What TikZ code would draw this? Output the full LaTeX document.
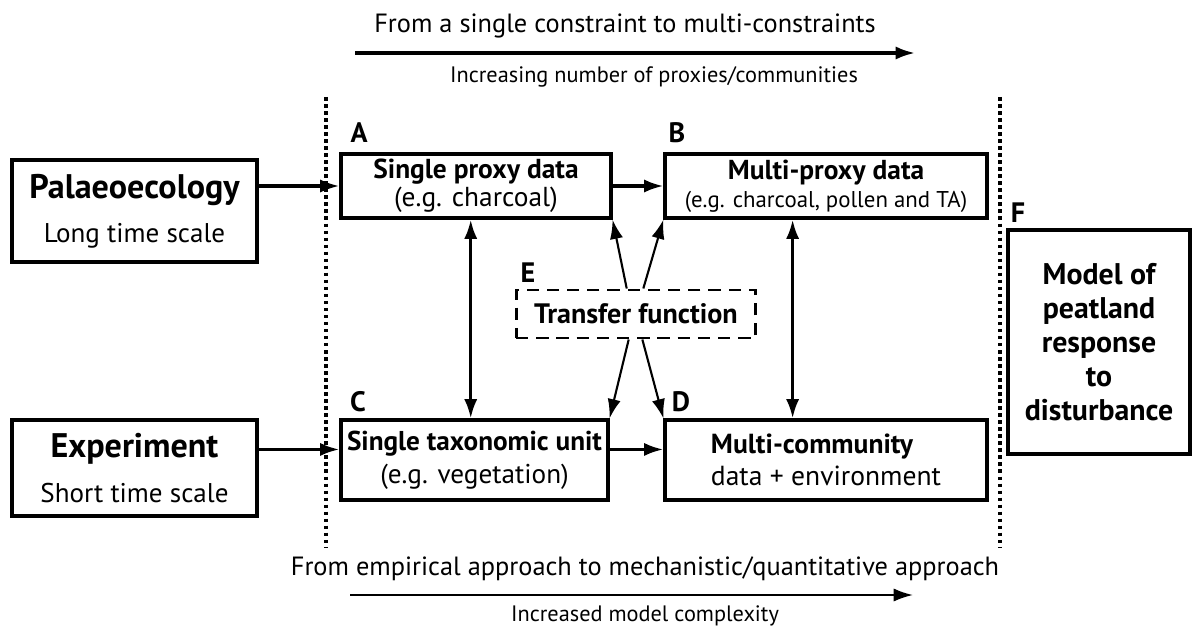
\documentclass[tikz,border=0pt]{standalone}
\usepackage{fontspec}
\setmainfont{PT Sans}
\usetikzlibrary{arrows.meta}
\begin{document}
\begin{tikzpicture}[x=0.02cm,y=-0.02cm]
	\tikzstyle{none}=[inner sep=0pt]
	\tikzstyle{box}=[draw,line width=1.8pt,inner sep=0pt,align=center]
	\tikzstyle{dbox}=[draw,line width=1.7pt,dash pattern=on 7pt off 4.5pt,inner sep=0pt]
	\tikzstyle{letter}=[inner sep=0pt,font=\fontsize{16}{16}\selectfont\bfseries]
	\tikzstyle{arrow1}=[-{Latex[length=11pt,width=7.5pt]},draw,line width=1.8pt]
	\tikzstyle{arrow2}=[-{Latex[length=11pt,width=7.5pt]},draw,line width=1.2pt]
	\tikzstyle{both}=[{Latex[length=11pt,width=7.5pt]}-{Latex[length=11pt,width=7.5pt]},draw,line width=1.8pt]
	\tikzstyle{sep}=[draw,line width=2pt,dash pattern=on 2pt off 2pt]
		\useasboundingbox (0,0) rectangle (1192,628);

		\node [style=box, minimum width=4.9cm, minimum height=2.04cm, font=\fontsize{15.4}{25}\selectfont] (palaeo) at (134.5, 211) {{\fontsize{19.4}{25}\selectfont\bfseries Palaeoecology}\\Long time scale};
		\node [style=box, minimum width=4.9cm, minimum height=1.92cm, font=\fontsize{15.4}{25.6}\selectfont] (exper) at (134.5, 468) {{\fontsize{19.4}{25.6}\selectfont\bfseries Experiment}\\Short time scale};
		\node [style=box, minimum width=5.4cm, minimum height=1.28cm, font=\fontsize{15.6}{16}\selectfont] (A) at (476, 186) {{\bfseries Single proxy data}\\(e.g. charcoal)};
		\node [style=box, minimum width=6.44cm, minimum height=1.28cm, font=\fontsize{15.6}{16}\selectfont] (B) at (826, 186) {{\bfseries Multi-proxy data}\\{\fontsize{13}{16}\selectfont (e.g. charcoal, pollen and TA)}};
		\node [style=box, minimum width=5.34cm, minimum height=1.6cm, font=\fontsize{15.5}{18.8}\selectfont] (C) at (474.5, 460) {{\bfseries Single taxonomic unit}\\(e.g. vegetation)};
		\node [style=box, minimum width=6.44cm, minimum height=1.6cm, align=left, font=\fontsize{15.7}{18.2}\selectfont] (D) at (826, 460) {{\bfseries Multi-community}\\data + environment};
		\node [style=dbox, minimum width=4.8cm, minimum height=0.96cm, font=\fontsize{16}{16}\selectfont\bfseries] (E) at (636, 314) {Transfer function};
		\node [style=box, minimum width=3.64cm, minimum height=4.48cm, font=\fontsize{17}{19.4}\selectfont\bfseries] (F) at (1099, 342) {Model of\\peatland\\response\\to\\disturbance};

		\node [style=letter] (la) at (359, 133) {A};
		\node [style=letter] (lb) at (677, 133) {B};
		\node [style=letter] (lc) at (358, 402) {C};
		\node [style=letter] (ld) at (681, 402) {D};
		\node [style=letter] (le) at (528, 273) {E};
		\node [style=letter] (lf) at (1018, 213) {F};

		\node [style=none, anchor=base, font=\fontsize{15}{16}\selectfont] (top) at (625, 33) {From a single constraint to multi-constraints};
		\node [style=none, anchor=base, font=\fontsize{12.7}{13}\selectfont] (topsub) at (654, 83) {Increasing number of proxies/communities};
		\node [style=none, anchor=base, font=\fontsize{15}{16}\selectfont] (bot) at (645, 575) {From empirical approach to mechanistic/quantitative approach};
		\node [style=none, anchor=base, font=\fontsize{12.7}{13}\selectfont] (botsub) at (645, 621) {Increased model complexity};

		\coordinate (t1) at (355, 53);
		\coordinate (t2) at (915, 53);
		\coordinate (b1) at (350, 595);
		\coordinate (b2) at (913, 595);
		\coordinate (s1) at (326, 97);
		\coordinate (s2) at (326, 548);
		\coordinate (s3) at (1000, 97);
		\coordinate (s4) at (1000, 548);

		\draw [style=arrow1] (t1) to (t2);
		\draw [style=arrow2] (b1) to (b2);
		\draw [style=sep] (s1) to (s2);
		\draw [style=sep] (s3) to (s4);

		\draw [style=arrow1] (palaeo.east |- A.west) to (A.west);
		\draw [style=arrow1] ([yshift=6pt]exper.east |- C.west) to ([yshift=6pt]C.west);
		\draw [style=arrow1] (A.east) to (B.west);
		\draw [style=arrow1] ([yshift=6pt]C.east) to ([yshift=6pt]D.west);
		\draw [style=both] ([xshift=-3pt]A.south) to ([xshift=-3pt]A.south |- C.north);
		\draw [style=both] ([xshift=-19pt]B.south) to ([xshift=-19pt]B.south |- D.north);
		\draw [style=arrow2] (E.110) to (A.south east);
		\draw [style=arrow2] (E.74) to (B.south west);
		\draw [style=arrow2] (E.254) to (C.north east);
		\draw [style=arrow2] (E.284) to (D.north west);

\end{tikzpicture}
\end{document}
